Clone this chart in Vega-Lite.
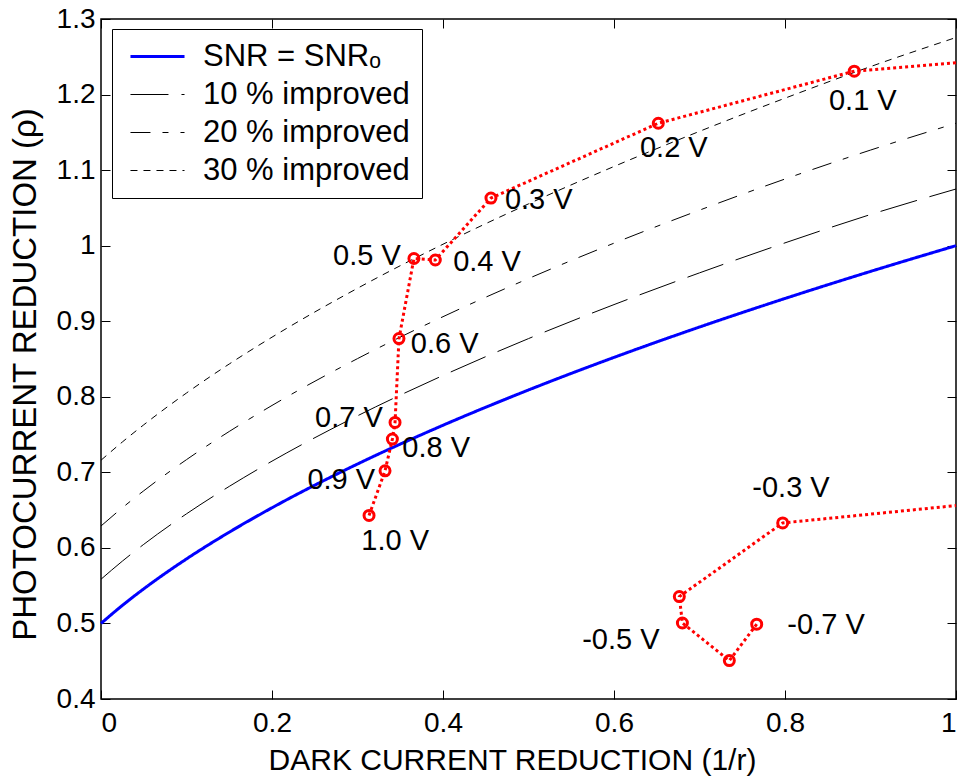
{
  "$schema": "https://vega.github.io/schema/vega-lite/v6.json",
  "width": 855,
  "height": 680,
  "autosize": {"type": "none"},
  "padding": {"left": 101, "top": 19, "right": 7, "bottom": 77},
  "background": "white",
  "config": {
    "view": {"stroke": "black", "strokeWidth": 1.5},
    "font": "Liberation Sans",
    "axis": {
      "domain": false,
      "grid": false,
      "tickColor": "black",
      "tickWidth": 1,
      "tickSize": -9,
      "labelColor": "black",
      "labelFont": "Liberation Sans",
      "labelFontSize": 28,
      "titleColor": "black",
      "titleFont": "Liberation Sans",
      "titleFontSize": 30,
      "titleFontWeight": "normal"
    }
  },
  "datasets": {
    "curves": [
      {"series": "SNR = SNRₒ", "x": 0, "y": 0.5},
      {"series": "SNR = SNRₒ", "x": 0.025, "y": 0.5239},
      {"series": "SNR = SNRₒ", "x": 0.05, "y": 0.5458},
      {"series": "SNR = SNRₒ", "x": 0.1, "y": 0.5854},
      {"series": "SNR = SNRₒ", "x": 0.15, "y": 0.6208},
      {"series": "SNR = SNRₒ", "x": 0.2, "y": 0.6531},
      {"series": "SNR = SNRₒ", "x": 0.3, "y": 0.711},
      {"series": "SNR = SNRₒ", "x": 0.4, "y": 0.7623},
      {"series": "SNR = SNRₒ", "x": 0.5, "y": 0.809},
      {"series": "SNR = SNRₒ", "x": 0.6, "y": 0.8521},
      {"series": "SNR = SNRₒ", "x": 0.7, "y": 0.8923},
      {"series": "SNR = SNRₒ", "x": 0.8, "y": 0.9301},
      {"series": "SNR = SNRₒ", "x": 0.9, "y": 0.9659},
      {"series": "SNR = SNRₒ", "x": 1.0, "y": 1.0},
      {"series": "10 % improved", "x": 0, "y": 0.5585},
      {"series": "10 % improved", "x": 0.025, "y": 0.5825},
      {"series": "10 % improved", "x": 0.05, "y": 0.6047},
      {"series": "10 % improved", "x": 0.1, "y": 0.6451},
      {"series": "10 % improved", "x": 0.15, "y": 0.6814},
      {"series": "10 % improved", "x": 0.2, "y": 0.7148},
      {"series": "10 % improved", "x": 0.3, "y": 0.7748},
      {"series": "10 % improved", "x": 0.4, "y": 0.8282},
      {"series": "10 % improved", "x": 0.5, "y": 0.877},
      {"series": "10 % improved", "x": 0.6, "y": 0.922},
      {"series": "10 % improved", "x": 0.7, "y": 0.964},
      {"series": "10 % improved", "x": 0.8, "y": 1.0037},
      {"series": "10 % improved", "x": 0.9, "y": 1.0412},
      {"series": "10 % improved", "x": 1.0, "y": 1.075},
      {"series": "20 % improved", "x": 0, "y": 0.629},
      {"series": "20 % improved", "x": 0.025, "y": 0.6531},
      {"series": "20 % improved", "x": 0.05, "y": 0.6756},
      {"series": "20 % improved", "x": 0.1, "y": 0.7168},
      {"series": "20 % improved", "x": 0.15, "y": 0.7541},
      {"series": "20 % improved", "x": 0.2, "y": 0.7885},
      {"series": "20 % improved", "x": 0.3, "y": 0.8505},
      {"series": "20 % improved", "x": 0.4, "y": 0.906},
      {"series": "20 % improved", "x": 0.5, "y": 0.9565},
      {"series": "20 % improved", "x": 0.6, "y": 1.0033},
      {"series": "20 % improved", "x": 0.7, "y": 1.047},
      {"series": "20 % improved", "x": 0.8, "y": 1.0882},
      {"series": "20 % improved", "x": 0.9, "y": 1.1265},
      {"series": "20 % improved", "x": 1.0, "y": 1.162},
      {"series": "30 % improved", "x": 0, "y": 0.716},
      {"series": "30 % improved", "x": 0.025, "y": 0.7402},
      {"series": "30 % improved", "x": 0.05, "y": 0.7629},
      {"series": "30 % improved", "x": 0.1, "y": 0.805},
      {"series": "30 % improved", "x": 0.15, "y": 0.8434},
      {"series": "30 % improved", "x": 0.2, "y": 0.8789},
      {"series": "30 % improved", "x": 0.3, "y": 0.9436},
      {"series": "30 % improved", "x": 0.4, "y": 1.0019},
      {"series": "30 % improved", "x": 0.5, "y": 1.0553},
      {"series": "30 % improved", "x": 0.6, "y": 1.1048},
      {"series": "30 % improved", "x": 0.7, "y": 1.1513},
      {"series": "30 % improved", "x": 0.8, "y": 1.1952},
      {"series": "30 % improved", "x": 0.9, "y": 1.237},
      {"series": "30 % improved", "x": 1.0, "y": 1.2755}
    ],
    "bias": [
      {"branch": "forward", "seq": 1, "volt": "1.0 V", "x": 0.3135, "y": 0.643, "marker": true},
      {"branch": "forward", "seq": 2, "volt": "0.9 V", "x": 0.3322, "y": 0.702, "marker": true},
      {"branch": "forward", "seq": 3, "volt": "0.8 V", "x": 0.3408, "y": 0.744, "marker": true},
      {"branch": "forward", "seq": 4, "volt": "0.7 V", "x": 0.3439, "y": 0.766, "marker": true},
      {"branch": "forward", "seq": 5, "volt": "0.6 V", "x": 0.3485, "y": 0.877, "marker": true},
      {"branch": "forward", "seq": 6, "volt": "0.5 V", "x": 0.366, "y": 0.983, "marker": true},
      {"branch": "forward", "seq": 7, "volt": "0.4 V", "x": 0.391, "y": 0.981, "marker": true},
      {"branch": "forward", "seq": 8, "volt": "0.3 V", "x": 0.4561, "y": 1.063, "marker": true},
      {"branch": "forward", "seq": 9, "volt": "0.2 V", "x": 0.6518, "y": 1.162, "marker": true},
      {"branch": "forward", "seq": 10, "volt": "0.1 V", "x": 0.881, "y": 1.231, "marker": true},
      {"branch": "forward", "seq": 11, "volt": "", "x": 1.0, "y": 1.242, "marker": false},
      {"branch": "reverse", "seq": 1, "volt": "-0.7 V", "x": 0.7669, "y": 0.499, "marker": true},
      {"branch": "reverse", "seq": 2, "volt": "-0.6 V", "x": 0.7349, "y": 0.4508, "marker": true},
      {"branch": "reverse", "seq": 3, "volt": "-0.5 V", "x": 0.68, "y": 0.5006, "marker": true},
      {"branch": "reverse", "seq": 4, "volt": "-0.4 V", "x": 0.6764, "y": 0.5355, "marker": true},
      {"branch": "reverse", "seq": 5, "volt": "-0.3 V", "x": 0.7973, "y": 0.633, "marker": true},
      {"branch": "reverse", "seq": 6, "volt": "", "x": 1.0, "y": 0.656, "marker": false}
    ],
    "labels": [
      {"text": "0.1 V", "lx": 0.891, "ly": 1.191},
      {"text": "0.2 V", "lx": 0.67, "ly": 1.129},
      {"text": "0.3 V", "lx": 0.512, "ly": 1.06},
      {"text": "0.4 V", "lx": 0.4515, "ly": 0.978},
      {"text": "0.5 V", "lx": 0.311, "ly": 0.986},
      {"text": "0.6 V", "lx": 0.402, "ly": 0.87},
      {"text": "0.7 V", "lx": 0.29, "ly": 0.772},
      {"text": "0.8 V", "lx": 0.392, "ly": 0.732},
      {"text": "0.9 V", "lx": 0.281, "ly": 0.69},
      {"text": "1.0 V", "lx": 0.344, "ly": 0.609},
      {"text": "-0.3 V", "lx": 0.807, "ly": 0.679},
      {"text": "-0.5 V", "lx": 0.608, "ly": 0.478},
      {"text": "-0.7 V", "lx": 0.848, "ly": 0.498}
    ]
  },
  "layer": [
    {
      "data": {"name": "curves"},
      "mark": {"type": "line", "interpolate": "monotone", "strokeCap": "butt"},
      "encoding": {
        "x": {
          "field": "x", "type": "quantitative",
          "scale": {"domain": [0, 1], "nice": false, "zero": false},
          "axis": {
            "orient": "bottom",
            "values": [0, 0.2, 0.4, 0.6, 0.8, 1],
            "format": "~g",
            "labelPadding": 19,
            "title": "DARK CURRENT REDUCTION (1/r)",
            "titleX": 411,
            "titleAlign": "center",
            "titlePadding": 8
          }
        },
        "y": {
          "field": "y", "type": "quantitative",
          "scale": {"domain": [0.4, 1.3], "nice": false, "zero": false},
          "axis": {
            "orient": "left",
            "values": [0.4, 0.5, 0.6, 0.7, 0.8, 0.9, 1, 1.1, 1.2, 1.3],
            "format": "~g",
            "labelPadding": 15,
            "title": "PHOTOCURRENT REDUCTION (ρ)",
            "titleFontSize": 33,
            "titleY": 355,
            "titleAlign": "center",
            "titlePadding": 14
          }
        },
        "color": {
          "field": "series", "type": "nominal",
          "scale": {
            "domain": ["SNR = SNRₒ", "10 % improved", "20 % improved", "30 % improved"],
            "range": ["#0000ff", "black", "black", "black"]
          },
          "legend": {
            "title": null,
            "orient": "none",
            "legendX": 11,
            "legendY": 10,
            "fillColor": "white",
            "strokeColor": "black",
            "padding": 12,
            "labelFont": "Liberation Sans",
            "labelFontSize": 31,
            "labelColor": "black",
            "labelLimit": 400,
            "labelOffset": 30,
            "rowPadding": 6,
            "symbolType": "M-1.93,0H1.93",
            "symbolSize": 784,
            "symbolOffset": 18
          }
        },
        "strokeDash": {
          "field": "series", "type": "nominal",
          "scale": {
            "domain": ["SNR = SNRₒ", "10 % improved", "20 % improved", "30 % improved"],
            "range": [[1, 0], [38, 13], [20, 12, 6, 12], [7, 6]]
          },
          "legend": null
        },
        "strokeWidth": {
          "field": "series", "type": "nominal",
          "scale": {
            "type": "ordinal",
            "domain": ["SNR = SNRₒ", "10 % improved", "20 % improved", "30 % improved"],
            "range": [3, 1, 1, 1]
          },
          "legend": null
        }
      }
    },
    {
      "data": {"name": "curves"},
      "mark": {"type": "point", "opacity": 0},
      "encoding": {
        "x": {
          "field": "x", "type": "quantitative",
          "axis": {"orient": "top", "values": [0, 0.2, 0.4, 0.6, 0.8, 1], "labels": false, "title": null}
        },
        "y": {
          "field": "y", "type": "quantitative",
          "axis": {"orient": "right", "values": [0.4, 0.5, 0.6, 0.7, 0.8, 0.9, 1, 1.1, 1.2, 1.3], "labels": false, "title": null}
        }
      }
    },
    {
      "data": {"name": "bias"},
      "mark": {"type": "line", "color": "#ff0000", "strokeWidth": 3, "strokeDash": [3, 3], "strokeCap": "butt"},
      "encoding": {
        "x": {"field": "x", "type": "quantitative", "axis": null},
        "y": {"field": "y", "type": "quantitative", "axis": null},
        "detail": {"field": "branch"},
        "order": {"field": "seq", "type": "quantitative"}
      }
    },
    {
      "data": {"name": "bias"},
      "transform": [{"filter": "datum.marker"}],
      "mark": {"type": "point", "shape": "circle", "filled": false, "stroke": "#ff0000", "strokeWidth": 3, "size": 100, "opacity": 1},
      "encoding": {
        "x": {"field": "x", "type": "quantitative", "axis": null},
        "y": {"field": "y", "type": "quantitative", "axis": null}
      }
    },
    {
      "data": {"name": "labels"},
      "mark": {"type": "text", "font": "Liberation Sans", "fontSize": 29, "color": "black", "align": "center", "baseline": "middle"},
      "encoding": {
        "x": {"field": "lx", "type": "quantitative", "axis": null},
        "y": {"field": "ly", "type": "quantitative", "axis": null},
        "text": {"field": "text"}
      }
    }
  ],
  "resolve": {"axis": {"x": "independent", "y": "independent"}}
}
